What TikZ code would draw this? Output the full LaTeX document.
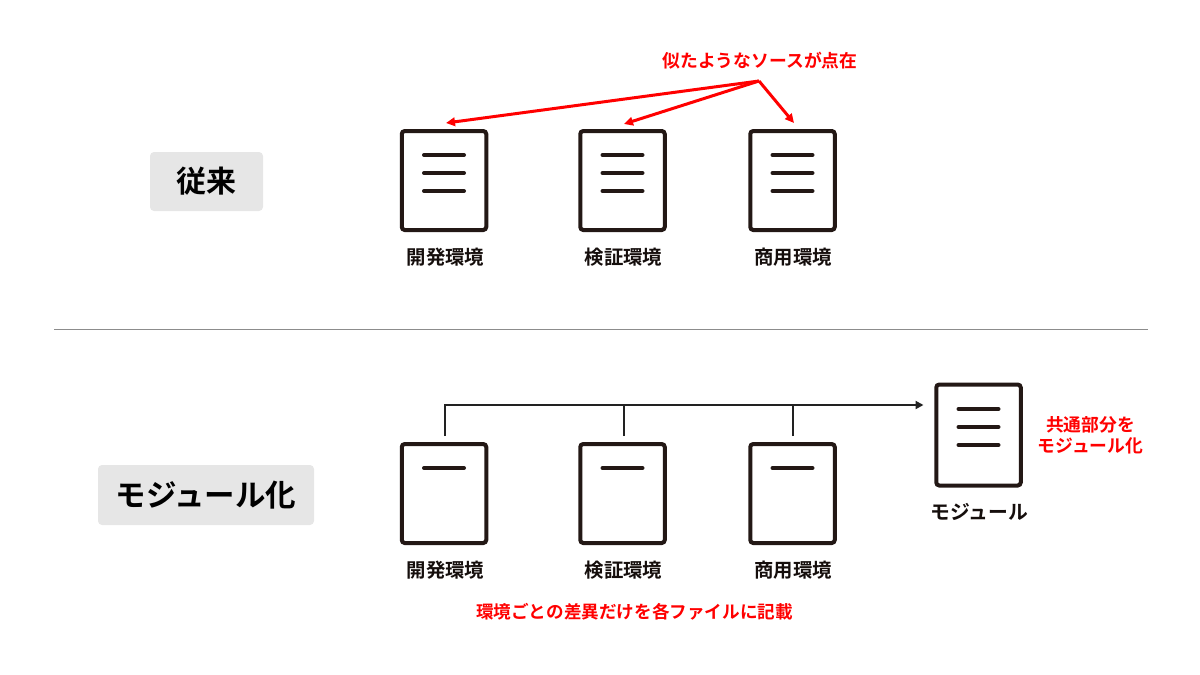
\documentclass[tikz,border=0pt]{standalone}
\usepackage{fontspec}
\usetikzlibrary{arrows.meta,calc}
\newfontfamily\jpfont{Noto Sans CJK JP Bold}
\definecolor{ink}{HTML}{231815}
\definecolor{linkgray}{HTML}{222222}
\definecolor{tag}{HTML}{E6E6E6}
\definecolor{rule}{HTML}{8C8C8C}
\tikzset{
  docbox/.style={draw=ink,line width=4pt,rounded corners=3pt,fill=white,minimum width=84.5pt,inner sep=0pt},
  tall/.style={docbox,minimum height=99pt},
  taller/.style={docbox,minimum height=101pt},
  docline/.style={draw=ink,line width=4pt,line cap=round},
  envlabel/.style={font=\jpfont\fontsize{19.4}{20}\selectfont,text=ink!60!black,inner sep=0pt},
  redlabel/.style={font=\jpfont\fontsize{17.8}{21}\selectfont,text=red,inner sep=0pt,align=center},
  tagbox/.style={fill=tag,rounded corners=4pt,inner sep=0pt,text=black},
  redarrow/.style={draw=red,line width=3pt,-{Triangle[length=9pt,width=8.5pt]}},
  link/.style={draw=linkgray,line width=2.6pt},
  linkarrow/.style={link,-{Triangle[length=8pt,width=8pt]}}
}
\begin{document}
\begin{tikzpicture}[x=1pt,y=-1pt]
\useasboundingbox (0,0) rectangle (1200,675);
% section tags
\node[tagbox,minimum width=113pt,minimum height=59pt,font=\jpfont\fontsize{30}{32}\selectfont] (tagA) at (206.5,181.5) {従来};
\node[tagbox,minimum width=216pt,minimum height=60pt,font=\jpfont\fontsize{30.5}{32}\selectfont] (tagB) at (206,495) {モジュール化};
% divider
\coordinate (ruleL) at (54,329.5);
\coordinate (ruleR) at (1148,329.5);
\draw[rule,line width=1pt] (ruleL) -- (ruleR);
% upper documents
\node[tall] (a1) at (444,180.5) {};
\node[tall] (a2) at (622.5,180.5) {};
\node[tall] (a3) at (792.5,180.5) {};
\foreach \n in {a1,a2,a3}\foreach \d in {-25.5,-7.5,10.5}
  \draw[docline] ([shift={(-20,\d)}]\n.center) -- ([shift={(20,\d)}]\n.center);
\node[envlabel] (la1) at (445.5,257.5) {開発環境};
\node[envlabel] (la2) at (623.5,257.5) {検証環境};
\node[envlabel] (la3) at (793,257.5) {商用環境};
% upper red note
\node[redlabel] (note) at (760,60.5) {似たようなソースが点在};
\coordinate (hub) at (759,81);
\coordinate (ta1) at (446,123);
\coordinate (ta2) at (624,124);
\coordinate (ta3) at (794,123);
\draw[redarrow] (hub) -- (ta1);
\draw[redarrow] (hub) -- (ta2);
\draw[redarrow] (hub) -- (ta3);
% lower documents
\node[tall] (b1) at (444,493.5) {};
\node[tall] (b2) at (622.5,493.5) {};
\node[tall] (b3) at (792.5,493.5) {};
\foreach \n in {b1,b2,b3}
  \draw[docline] ([shift={(-20,-25.5)}]\n.center) -- ([shift={(20,-25.5)}]\n.center);
\node[envlabel] (lb1) at (445.5,570.5) {開発環境};
\node[envlabel] (lb2) at (623.5,570.5) {検証環境};
\node[envlabel] (lb3) at (793,570.5) {商用環境};
% module document
\node[taller] (m) at (978.5,435) {};
\foreach \d in {-26,-8,10}
  \draw[docline] ([shift={(-20,\d)}]m.center) -- ([shift={(20,\d)}]m.center);
\node[envlabel,font=\jpfont\fontsize{19.8}{20}\selectfont] (lm) at (979,512) {モジュール};
\node[redlabel] (common) at (1090.5,435.5) {共通部分を\\モジュール化};
\node[redlabel,font=\jpfont\fontsize{17.6}{21}\selectfont] (diff) at (634.5,612) {環境ごとの差異だけを各ファイルに記載};
% connectors
\coordinate (s1) at (445,436);
\coordinate (s2) at (624,436);
\coordinate (s3) at (793,436);
\coordinate (corner) at (445,405);
\coordinate (j2) at (624,405);
\coordinate (j3) at (793,405);
\coordinate (tip) at (923.5,405);
\draw[linkarrow] (s1) -- (corner) -- (tip);
\draw[link] (s2) -- (j2);
\draw[link] (s3) -- (j3);
\end{tikzpicture}
\end{document}
